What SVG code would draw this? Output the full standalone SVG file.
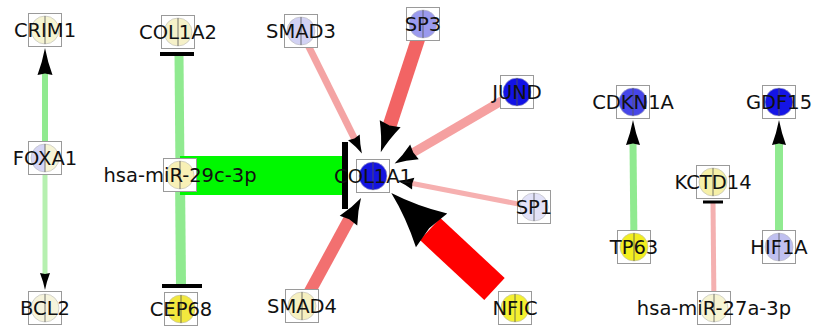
<svg xmlns="http://www.w3.org/2000/svg" xmlns:xlink="http://www.w3.org/1999/xlink" width="814" height="327" viewBox="0 0 814 327">
  <style>
    .box { fill: #ffffff; stroke: #9a9a9a; stroke-width: 1; }
    .div { stroke: #555555; stroke-width: 0.8; }
    .half { stroke: none; }
    .lbl { font-family: "DejaVu Sans", "Liberation Sans", sans-serif; font-size: 19.5px; fill: #111111; text-anchor: middle; }
    .e { fill: none; stroke-linecap: butt; }
    .bar { stroke: #000000; stroke-linecap: butt; }
    .head { fill: #000000; }
  </style>
  <defs>
    <!-- unit arrowhead: tip at origin pointing along +x, length 1, half-width 1 -->
    <path id="head" d="M0,0 Q-0.5,-0.34 -1,-1 L-0.94,0 L-1,1 Q-0.5,0.34 0,0 Z"/>
  </defs>
  <rect width="814" height="327" fill="#ffffff"/>

  <g id="connectors">
    <!-- FOXA1 -> CRIM1 -->
    <line class="e" x1="45" y1="158" x2="45" y2="73" stroke="#90ea90" stroke-width="6"/>
    <use href="#head" class="head" transform="translate(45,48) rotate(-90) scale(27,7.5)"/>
    <!-- FOXA1 -> BCL2 -->
    <line class="e" x1="45" y1="158" x2="45" y2="275" stroke="#b6f0b0" stroke-width="5"/>
    <use href="#head" class="head" transform="translate(45,290) rotate(90) scale(17,5)"/>

    <!-- hsa-miR-29c-3p -| COL1A2 -->
    <line class="e" x1="180" y1="175" x2="179" y2="54" stroke="#90ea90" stroke-width="9"/>
    <line class="bar" x1="160" y1="54" x2="194" y2="54" stroke-width="4"/>
    <!-- hsa-miR-29c-3p -| CEP68 -->
    <line class="e" x1="180" y1="175" x2="181" y2="286" stroke="#90ea90" stroke-width="10"/>
    <line class="bar" x1="162" y1="286" x2="202" y2="286" stroke-width="4"/>
    <!-- hsa-miR-29c-3p -| COL1A1 -->
    <line class="e" x1="180" y1="175.5" x2="343" y2="175.5" stroke="#00f800" stroke-width="39"/>
    <line class="bar" x1="345" y1="142" x2="345" y2="209" stroke-width="6"/>

    <!-- regulators -> COL1A1 -->
    <line class="e" x1="301" y1="31" x2="354.8" y2="139.3" stroke="#f4a4a4" stroke-width="7"/>
    <use href="#head" class="head" transform="translate(361.9,153.6) rotate(63.6) scale(18,6.5)"/>
    <line class="e" x1="423" y1="24" x2="389.6" y2="125.7" stroke="#f26464" stroke-width="14"/>
    <use href="#head" class="head" transform="translate(380.8,152.3) rotate(108.2) scale(30,11)"/>
    <line class="e" x1="517" y1="92" x2="412.7" y2="152.8" stroke="#f5a0a0" stroke-width="9"/>
    <use href="#head" class="head" transform="translate(394.6,163.4) rotate(149.7) scale(23,8.5)"/>
    <line class="e" x1="534" y1="207" x2="411.2" y2="183.3" stroke="#f6b0b0" stroke-width="5"/>
    <use href="#head" class="head" transform="translate(397.5,180.7) rotate(-169.1) scale(16,6)"/>
    <line class="e" x1="302" y1="306" x2="349.4" y2="218.9" stroke="#f27070" stroke-width="12"/>
    <use href="#head" class="head" transform="translate(361,197.9) rotate(-61.2) scale(26,10)"/>
    <line class="e" x1="494.5" y1="288.9" x2="430.1" y2="229.1" stroke="#ff0000" stroke-width="30" stroke-linecap="round"/>
    <use href="#head" class="head" transform="translate(391.3,193) rotate(-137.1) scale(55,23)"/>

    <!-- TP63 -> CDKN1A -->
    <line class="e" x1="634" y1="247" x2="633" y2="143" stroke="#90ea90" stroke-width="7"/>
    <use href="#head" class="head" transform="translate(633,120) rotate(-90) scale(25,7)"/>
    <!-- HIF1A -> GDF15 -->
    <line class="e" x1="779" y1="247" x2="779" y2="143" stroke="#90ea90" stroke-width="8"/>
    <use href="#head" class="head" transform="translate(779,120) rotate(-90) scale(25,7)"/>
    <!-- hsa-miR-27a-3p -| KCTD14 -->
    <line class="e" x1="714" y1="308" x2="713" y2="202" stroke="#f4b0b0" stroke-width="5"/>
    <line class="bar" x1="703" y1="202" x2="723" y2="202" stroke-width="3"/>
  </g>

  <g id="nodes">
    <g id="CRIM1" transform="translate(45,30)">
      <rect class="box" x="-16.5" y="-16.5" width="33" height="33"/>
      <circle cx="0" cy="0" r="14" fill="#f6f4d2" stroke="#bbbbbb" stroke-width="0.6"/>
      <line class="div" x1="0" y1="-14" x2="0" y2="14"/>
      <text class="lbl" x="0" y="7">CRIM1</text>
    </g>
    <g id="FOXA1" transform="translate(45,158)">
      <rect class="box" x="-16.5" y="-16.5" width="33" height="33"/>
      <path class="half" d="M0,-14 A14,14 0 0 0 0,14 Z" fill="#d6d6f4"/>
      <path class="half" d="M0,-14 A14,14 0 0 1 0,14 Z" fill="#f6f4d6"/>
      <circle cx="0" cy="0" r="14" fill="none" stroke="#bbbbbb" stroke-width="0.6"/>
      <line class="div" x1="0" y1="-14" x2="0" y2="14"/>
      <text class="lbl" x="0" y="7">FOXA1</text>
    </g>
    <g id="BCL2" transform="translate(45,308)">
      <rect class="box" x="-16.5" y="-16.5" width="33" height="33"/>
      <circle cx="0" cy="0" r="14" fill="#f6f4dc" stroke="#bbbbbb" stroke-width="0.6"/>
      <line class="div" x1="0" y1="-14" x2="0" y2="14"/>
      <text class="lbl" x="0" y="7">BCL2</text>
    </g>
    <g id="COL1A2" transform="translate(178,32)">
      <rect class="box" x="-16.5" y="-16.5" width="33" height="33"/>
      <circle cx="0" cy="0" r="14" fill="#f6f1c8" stroke="#bbbbbb" stroke-width="0.6"/>
      <line class="div" x1="0" y1="-14" x2="0" y2="14"/>
      <text class="lbl" x="0" y="7">COL1A2</text>
    </g>
    <g id="hsa-miR-29c-3p" transform="translate(180,175)">
      <rect class="box" x="-16.5" y="-16.5" width="33" height="33"/>
      <circle cx="0" cy="0" r="14" fill="#f8f0b6" stroke="#bbbbbb" stroke-width="0.6"/>
      <line class="div" x1="0" y1="-14" x2="0" y2="14"/>
      <text class="lbl" x="0" y="7">hsa-miR-29c-3p</text>
    </g>
    <g id="CEP68" transform="translate(181,309)">
      <rect class="box" x="-16.5" y="-16.5" width="33" height="33"/>
      <circle cx="0" cy="0" r="14" fill="#f2e83e" stroke="#bbbbbb" stroke-width="0.6"/>
      <line class="div" x1="0" y1="-14" x2="0" y2="14"/>
      <text class="lbl" x="0" y="7">CEP68</text>
    </g>
    <g id="SMAD3" transform="translate(301,31)">
      <rect class="box" x="-16.5" y="-16.5" width="33" height="33"/>
      <circle cx="0" cy="0" r="14" fill="#d2d2f4" stroke="#bbbbbb" stroke-width="0.6"/>
      <line class="div" x1="0" y1="-14" x2="0" y2="14"/>
      <text class="lbl" x="0" y="7">SMAD3</text>
    </g>
    <g id="SP3" transform="translate(423,24)">
      <rect class="box" x="-16.5" y="-16.5" width="33" height="33"/>
      <circle cx="0" cy="0" r="14" fill="#9a9aee" stroke="#bbbbbb" stroke-width="0.6"/>
      <line class="div" x1="0" y1="-14" x2="0" y2="14"/>
      <text class="lbl" x="0" y="7">SP3</text>
    </g>
    <g id="JUND" transform="translate(517,92)">
      <rect class="box" x="-16.5" y="-16.5" width="33" height="33"/>
      <circle cx="0" cy="0" r="14" fill="#1212e6" stroke="#bbbbbb" stroke-width="0.6"/>
      <line class="div" x1="0" y1="-14" x2="0" y2="14"/>
      <text class="lbl" x="0" y="7">JUND</text>
    </g>
    <g id="COL1A1" transform="translate(373,176)">
      <rect class="box" x="-16.5" y="-16.5" width="33" height="33"/>
      <circle cx="0" cy="0" r="14" fill="#1414e0" stroke="#bbbbbb" stroke-width="0.6"/>
      <line class="div" x1="0" y1="-14" x2="0" y2="14"/>
      <text class="lbl" x="0" y="7">COL1A1</text>
    </g>
    <g id="SP1" transform="translate(534,207)">
      <rect class="box" x="-16.5" y="-16.5" width="33" height="33"/>
      <circle cx="0" cy="0" r="14" fill="#e2e2f8" stroke="#bbbbbb" stroke-width="0.6"/>
      <line class="div" x1="0" y1="-14" x2="0" y2="14"/>
      <text class="lbl" x="0" y="7">SP1</text>
    </g>
    <g id="SMAD4" transform="translate(302,306)">
      <rect class="box" x="-16.5" y="-16.5" width="33" height="33"/>
      <circle cx="0" cy="0" r="14" fill="#f6f0c0" stroke="#bbbbbb" stroke-width="0.6"/>
      <line class="div" x1="0" y1="-14" x2="0" y2="14"/>
      <text class="lbl" x="0" y="7">SMAD4</text>
    </g>
    <g id="NFIC" transform="translate(515,308)">
      <rect class="box" x="-16.5" y="-16.5" width="33" height="33"/>
      <circle cx="0" cy="0" r="14" fill="#f4f030" stroke="#bbbbbb" stroke-width="0.6"/>
      <line class="div" x1="0" y1="-14" x2="0" y2="14"/>
      <text class="lbl" x="0" y="7">NFIC</text>
    </g>
    <g id="CDKN1A" transform="translate(633,102)">
      <rect class="box" x="-16.5" y="-16.5" width="33" height="33"/>
      <circle cx="0" cy="0" r="14" fill="#4646e8" stroke="#bbbbbb" stroke-width="0.6"/>
      <line class="div" x1="0" y1="-14" x2="0" y2="14"/>
      <text class="lbl" x="0" y="7">CDKN1A</text>
    </g>
    <g id="GDF15" transform="translate(779,102)">
      <rect class="box" x="-16.5" y="-16.5" width="33" height="33"/>
      <circle cx="0" cy="0" r="14" fill="#1414e6" stroke="#bbbbbb" stroke-width="0.6"/>
      <line class="div" x1="0" y1="-14" x2="0" y2="14"/>
      <text class="lbl" x="0" y="7">GDF15</text>
    </g>
    <g id="KCTD14" transform="translate(713,182)">
      <rect class="box" x="-16.5" y="-16.5" width="33" height="33"/>
      <circle cx="0" cy="0" r="14" fill="#f6f0a8" stroke="#bbbbbb" stroke-width="0.6"/>
      <line class="div" x1="0" y1="-14" x2="0" y2="14"/>
      <text class="lbl" x="0" y="7">KCTD14</text>
    </g>
    <g id="TP63" transform="translate(634,247)">
      <rect class="box" x="-16.5" y="-16.5" width="33" height="33"/>
      <circle cx="0" cy="0" r="14" fill="#f2ee20" stroke="#bbbbbb" stroke-width="0.6"/>
      <line class="div" x1="0" y1="-14" x2="0" y2="14"/>
      <text class="lbl" x="0" y="7">TP63</text>
    </g>
    <g id="HIF1A" transform="translate(779,247)">
      <rect class="box" x="-16.5" y="-16.5" width="33" height="33"/>
      <circle cx="0" cy="0" r="14" fill="#c0c0f0" stroke="#bbbbbb" stroke-width="0.6"/>
      <line class="div" x1="0" y1="-14" x2="0" y2="14"/>
      <text class="lbl" x="0" y="7">HIF1A</text>
    </g>
    <g id="hsa-miR-27a-3p" transform="translate(714,308)">
      <rect class="box" x="-16.5" y="-16.5" width="33" height="33"/>
      <circle cx="0" cy="0" r="14" fill="#f6f4d2" stroke="#bbbbbb" stroke-width="0.6"/>
      <line class="div" x1="0" y1="-14" x2="0" y2="14"/>
      <text class="lbl" x="0" y="7">hsa-miR-27a-3p</text>
    </g>
  </g>
</svg>
